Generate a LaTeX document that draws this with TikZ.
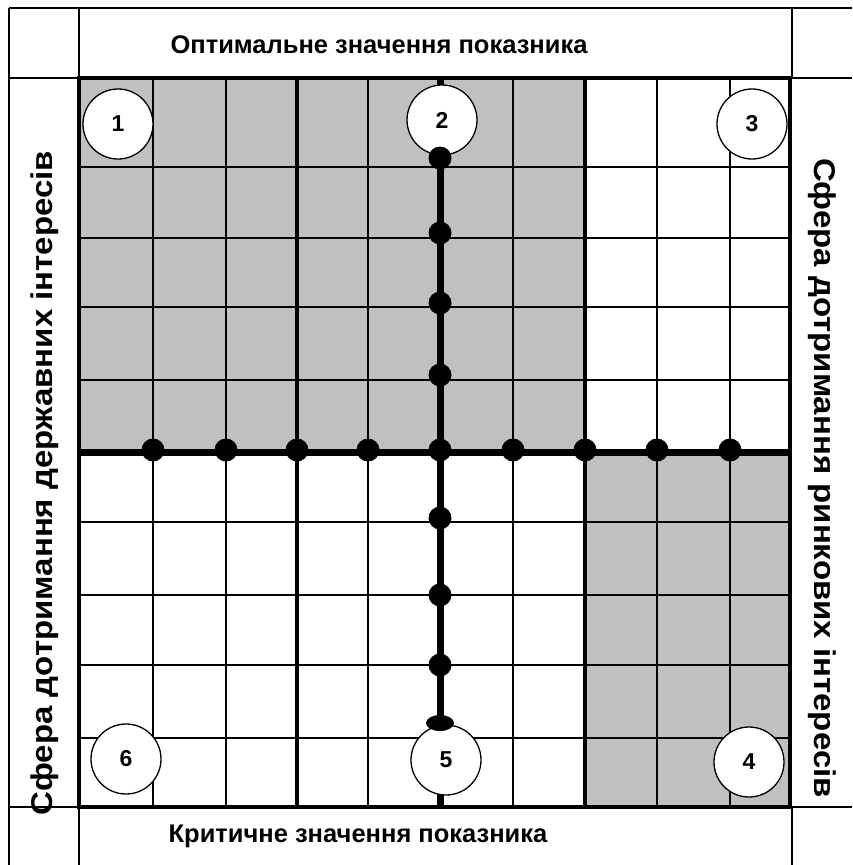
\documentclass[tikz,border=0pt]{standalone}
\usepackage{fontspec}
\setmainfont{Liberation Sans}
\usetikzlibrary{shapes.geometric}
\definecolor{cellgray}{HTML}{C0C0C0}
\tikzset{
  thinline/.style={line width=1.8pt},
  borderline/.style={line width=4.8pt},
  midline/.style={line width=7pt},
  dotnode/.style={circle, fill=black, inner sep=0pt, minimum size=23pt},
  enddot/.style={ellipse, fill=black, inner sep=0pt, minimum width=28pt, minimum height=16pt},
  numcirc/.style={circle, draw, fill=white, line width=1.3pt, inner sep=0pt, minimum size=70pt, font=\bfseries\fontsize{23}{23}\selectfont},
  hlabel/.style={font=\bfseries\fontsize{25.5}{26}\selectfont, inner sep=0pt},
  vlabel/.style={font=\bfseries\fontsize{30}{31}\selectfont, inner sep=0pt}
}
\begin{document}
\begin{tikzpicture}[x=1pt,y=-1pt]
\useasboundingbox (0,0) rectangle (852,865);
% gray fills
\fill[cellgray] (79,78) rectangle (585,452);
\fill[cellgray] (585,452) rectangle (790,807);
% outer table
\draw[thinline] (9,8) -- (852,8);
\draw[thinline] (9,8) -- (9,865);
\draw[thinline] (79,8) -- (79,78);
\draw[thinline] (792,8) -- (792,78);
\draw[thinline] (79,807) -- (79,865);
\draw[thinline] (792,807) -- (792,865);
\draw[thinline] (9,78) -- (79,78);
\draw[thinline] (790,78) -- (852,78);
\draw[thinline] (9,807) -- (79,807);
\draw[thinline] (790,807) -- (852,807);
% thin grid lines
\foreach \x in {153,226,368,513,657,730} \draw[thinline] (\x,78) -- (\x,807);
\foreach \y in {167,238,307,380,522,595,665,738} \draw[thinline] (79,\y) -- (790,\y);
% thick lines
\draw[borderline] (297,78) -- (297,807);
\draw[borderline] (585,78) -- (585,807);
\draw[borderline] (79,78) rectangle (790,807);
\draw[midline] (79,452) -- (790,452);
\coordinate (vtop) at (440,78);
\coordinate (vbot) at (440,807);
\draw[midline] (vtop) -- (vbot);
% labels
\node[hlabel] (top) at (379,45) {Оптимальне значення показника};
\node[hlabel] (bot) at (358,836) {Критичне значення показника};
\node[vlabel, rotate=90] (left) at (45,483) {\scalebox{1.1}[1]{Сфера дотримання державних інтересів}};
\node[vlabel, rotate=-90] (right) at (822,478) {\scalebox{1.1}[1]{Сфера дотримання ринкових інтересів}};
% numbered circles
\node[numcirc] (c1) at (118,124) {1};
\node[numcirc] (c2) at (442,120) {2};
\node[numcirc] (c3) at (752,124) {3};
\node[numcirc] (c4) at (749,762) {4};
\node[numcirc] (c5) at (446,760) {5};
\node[numcirc] (c6) at (126,759) {6};
% dots on horizontal line
\foreach \x [count=\i] in {153,226,297,368,440,513,585,657,730}
  \node[dotnode] (h\i) at (\x,450) {};
% dots on vertical line
\foreach \y [count=\i] in {158,233,303,375,518,595,665}
  \node[dotnode] (v\i) at (440,\y) {};
\node[enddot] (vend) at (440,723) {};
\end{tikzpicture}
\end{document}
